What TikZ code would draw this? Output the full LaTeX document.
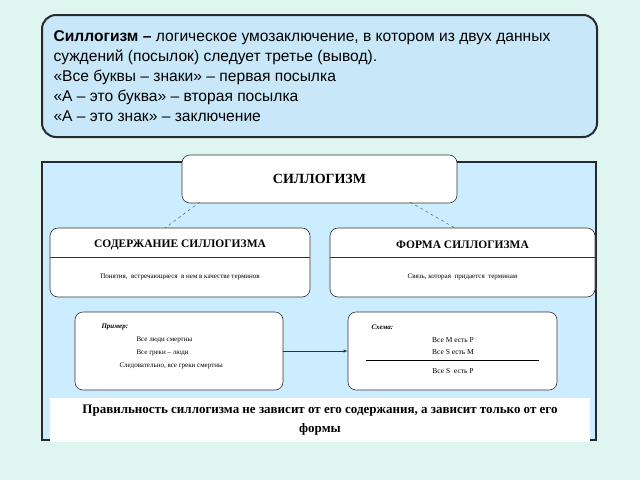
\documentclass[tikz,border=0pt]{standalone}
\usepackage{fontspec}
\setmainfont{Liberation Serif}
\newfontfamily\arialf{Liberation Sans}
\begin{document}
\begin{tikzpicture}[x=1pt,y=-1pt,
 rb/.style={draw=black!80,fill=white,rounded corners=8pt,line width=0.6pt},
 dl/.style={draw=black!70,dashed,line width=0.4pt}]
\useasboundingbox (0,0) rectangle (640,480);
\fill[fill={rgb,255:red,222;green,245;blue,240}] (0,0) rectangle (640,480);
% top box
\node[draw={rgb,255:red,40;green,40;blue,50},line width=2pt,fill={rgb,255:red,200;green,232;blue,250},rounded corners=14pt,minimum width=555pt,minimum height=122pt] (top) at (319.5,76) {};
\node[anchor=north west,align=left,font=\arialf\fontsize{15.6}{20}\selectfont] (toptext) at (50,27) {\textbf{Силлогизм –} логическое умозаключение, в котором из двух данных\\суждений (посылок) следует третье (вывод).\\«Все буквы – знаки» – первая посылка\\«А – это буква» – вторая посылка\\«А – это знак» – заключение};
% panel
\node[draw={rgb,255:red,40;green,40;blue,50},line width=2pt,fill={rgb,255:red,204;green,236;blue,255},minimum width=554pt,minimum height=278pt] (panel) at (319,301) {};
\node[rb,minimum width=275pt,minimum height=48pt,font=\bfseries\fontsize{14}{16}\selectfont] (title) at (319.5,179) {СИЛЛОГИЗМ};
\node[rb,minimum width=260pt,minimum height=69pt] (lbox) at (180,262.5) {};
\node[rb,minimum width=265pt,minimum height=69pt] (rbox) at (462.5,262.5) {};
\draw[black!80] (50,257) -- (310,257);
\draw[black!80] (330,257) -- (595,257);
\node[font=\bfseries\fontsize{11.5}{13}\selectfont] (lt) at (180,245) {СОДЕРЖАНИЕ СИЛЛОГИЗМА};
\node[font=\bfseries\fontsize{11.5}{13}\selectfont] (rt) at (462.5,245) {ФОРМА СИЛЛОГИЗМА};
\node[font=\fontsize{7}{8}\selectfont] (ls) at (180,277) {Понятия,\ \ встречающиеся\ \ в нем в качестве терминов};
\node[font=\fontsize{7}{8}\selectfont] (rs) at (462.5,277) {Связь, которая\ \ придается\ \ терминам};
\coordinate (t1) at (200,202); \coordinate (t2) at (410,202);
\coordinate (l1) at (165,228); \coordinate (r1) at (455,228);
\draw[dl] (t1) -- (l1); \draw[dl] (t2) -- (r1);
% bottom boxes
\node[rb,minimum width=208pt,minimum height=78pt] (ex) at (179,351) {};
\node[rb,minimum width=209pt,minimum height=78pt] (sc) at (452.5,351) {};
\draw[-latex,black!80] (ex.east) -- (sc.west);
\node[anchor=west,font=\bfseries\itshape\fontsize{7}{8}\selectfont] (exh) at (98,327) {Пример:};
\node[anchor=west,font=\fontsize{7}{8}\selectfont] (e1) at (133,340) {Все люди смертны};
\node[anchor=west,font=\fontsize{7}{8}\selectfont] (e2) at (133,353) {Все греки – люди};
\node[anchor=west,font=\fontsize{7}{8}\selectfont] (e3) at (116,366) {Следовательно, все греки смертны};
\node[anchor=west,font=\bfseries\itshape\fontsize{7}{8}\selectfont] (sch) at (368,327) {Схема:};
\node[font=\fontsize{7.5}{8}\selectfont] (s1) at (453,340) {Все M есть P};
\node[font=\fontsize{7.5}{8}\selectfont] (s2) at (453,352) {Все S есть M};
\draw[line width=0.9pt] (366,360) -- (539,360);
\node[font=\fontsize{7.5}{8}\selectfont] (s3) at (453,371) {Все S\ \ есть P};
% bottom band
\node[fill=white,minimum width=540pt,minimum height=44pt,align=center,font=\bfseries\fontsize{13}{19}\selectfont] (band) at (320,420) {Правильность силлогизма не зависит от его содержания, а зависит только от его\\формы};
\end{tikzpicture}
\end{document}
